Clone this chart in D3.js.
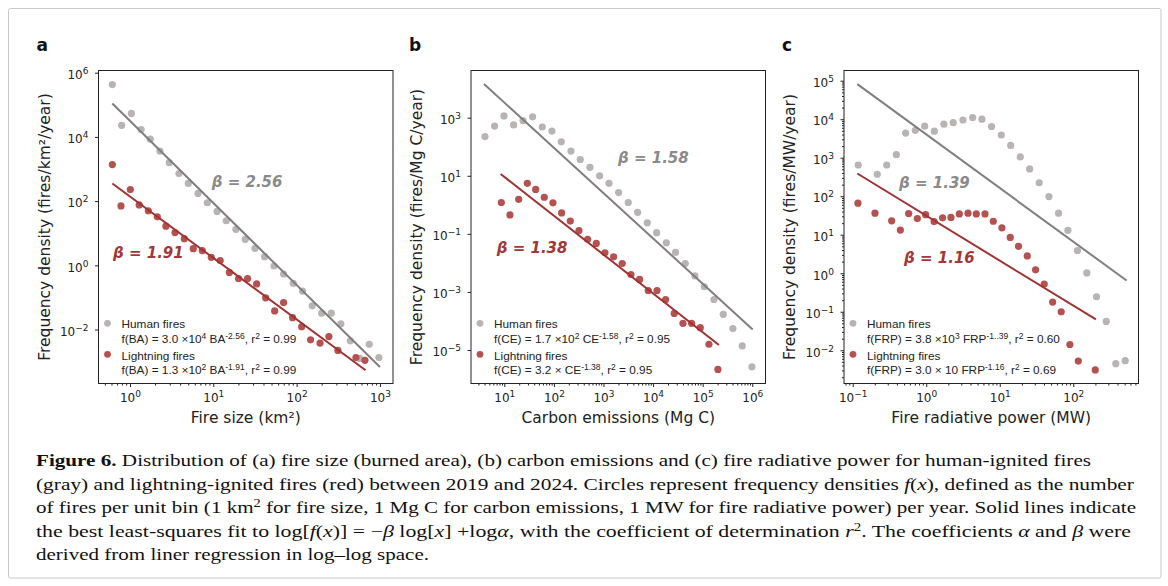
<!DOCTYPE html>
<html>
<head>
<meta charset="utf-8">
<script src="https://cdn.jsdelivr.net/npm/d3@7"></script>
<style>
  body { margin: 0; background: #fff; }
  svg { display: block; }
  text { white-space: pre; }
</style>
</head>
<body>
<svg width="1168" height="586"></svg>
<script>
// ---- panel a: fire size (km2) ----
var sizeHumanX = [0.614, 0.794, 1.04, 1.36, 1.75, 2.29, 2.96, 3.87, 5.01, 6.55, 8.47, 11.1, 14.3, 18.7, 24.2, 31.6, 41.3, 53.5, 69.8, 91.2, 118, 154, 200, 261, 340, 441, 575, 745, 973];
var sizeHumanY = [4.27e5, 2.29e4, 5.37e4, 1.70e4, 8.51e3, 3.63e3, 1.58e3, 724, 355, 174, 89.1, 47.9, 24.5, 13.2, 6.46, 3.39, 1.86, 0.955, 0.537, 0.275, 0.158, 0.055, 0.0324, 0.0324, 0.0151, 0.00447, 0.00126, 0.00347, 0.00135];
var sizeLightX = [0.614, 0.78, 1.01, 1.29, 1.66, 2.13, 2.70, 3.47, 4.49, 5.75, 7.38, 9.46, 12.1, 15.6, 20.1, 25.8, 33.1, 42.5, 54.5, 69.8, 89.5, 115, 147, 191, 244, 313, 515, 661];
var sizeLightY = [1380, 70.8, 229, 75.9, 50.1, 32.4, 16.6, 10.5, 6.76, 3.31, 2.88, 1.78, 1.41, 0.603, 0.389, 0.389, 0.263, 0.0977, 0.038, 0.0692, 0.0234, 0.0123, 0.00479, 0.0038, 0.00603, 0.00224, 0.00135, 0.0011];
var sizeHumanFit = [[0.614, 1.10e5], [1000, 6.8e-4]];
var sizeLightFit = [[0.614, 355], [673, 5.4e-4]];
var sizeXTicks = [1, 10, 100, 1000];
var sizeYTicks = [1e-2, 1, 1e2, 1e4, 1e6];

// ---- panel b: carbon emissions (Mg C) ----
var carbonHumanX = [4.07, 6.38, 9.84, 15.4, 23.8, 37.2, 58.3, 91.4, 141, 221, 340, 533, 836, 1290, 2020, 3160, 4880, 7640, 11800, 18500, 28400, 44600, 69800, 108000, 169000, 260000, 407000, 628000, 984000];
var carbonHumanY = [224, 513, 1150, 562, 794, 1070, 479, 347, 148, 70.8, 36.3, 19.5, 10.0, 5.50, 2.63, 1.20, 0.550, 0.240, 0.110, 0.0490, 0.0229, 0.00955, 0.00355, 0.00151, 5.50e-4, 1.70e-4, 5.50e-5, 1.38e-5, 2.63e-6];
var carbonLightX = [8.71, 13.0, 19.5, 29.1, 42.9, 64.0, 95.7, 143, 214, 320, 479, 716, 1070, 1600, 2390, 3580, 5350, 8000, 12000, 17900, 26700, 40000, 59800, 89500, 134000, 203000];
var carbonLightY = [1.20, 0.447, 1.55, 5.50, 3.39, 1.82, 1.17, 0.525, 0.275, 0.129, 0.0646, 0.0468, 0.0224, 0.0162, 0.00955, 0.00398, 0.00269, 0.00112, 0.00112, 5.50e-4, 1.82e-4, 8.32e-5, 8.32e-5, 5.89e-5, 1.58e-5, 2.14e-6];
var carbonHumanFit = [[3.89, 1.45e4], [1.02e6, 5.13e-5]];
var carbonLightFit = [[8.43, 11.5], [2.13e5, 1.48e-5]];
var carbonXTicks = [10, 1e2, 1e3, 1e4, 1e5, 1e6];
var carbonYTicks = [1e-5, 1e-3, 1e-1, 10, 1e3];

// ---- panel c: fire radiative power (MW) ----
var frpHumanX = [0.119, 0.216, 0.290, 0.393, 0.525, 0.711, 0.953, 1.29, 1.74, 2.33, 3.16, 4.28, 5.73, 7.74, 10.5, 14.1, 19.0, 25.5, 34.4, 46.7, 63.1, 84.5, 114, 153, 207, 281, 379, 508];
var frpHumanY = [646, 372, 646, 1200, 4370, 5130, 6610, 4900, 7410, 8130, 9550, 11000, 10000, 6460, 3890, 2090, 1050, 513, 224, 97.7, 36.3, 12.9, 3.89, 1.02, 0.245, 0.0562, 0.00447, 0.00537];
var frpLightX = [0.118, 0.201, 0.339, 0.445, 0.577, 0.757, 0.982, 1.28, 1.67, 2.17, 2.82, 3.70, 4.80, 6.30, 8.17, 10.7, 13.9, 18.0, 23.7, 30.7, 40.3, 52.4, 68.5, 89.9, 117, 199];
var frpLightY = [66.1, 36.3, 22.9, 13.2, 35.5, 26.3, 33.1, 21.9, 27.5, 28.2, 34.7, 36.3, 34.7, 34.7, 22.4, 15.1, 8.51, 5.01, 2.82, 1.23, 0.525, 0.178, 0.100, 0.0141, 0.00525, 0.00309];
var frpHumanFit = [[0.1156, 8.13e4], [531, 0.646]];
var frpLightFit = [[0.1156, 389], [203, 0.0631]];
var frpXTicks = [0.1, 1, 10, 100];
var frpYTicks = [1e-2, 1e-1, 1, 10, 1e2, 1e3, 1e4, 1e5];

var seriesNames = ['Human fires', 'Lightning fires'];
var grayDot = '#b9b3b3', redDot = '#b5524f';
var grayLine = '#7f7f7f', redLine = '#a03232';

// tiny markup: ^{sup}  *{italic}  #{bold}
function rich(textSel, str, supSize, rise) {
  var raised = false;
  str.split(/(\^\{[^}]*\}|\*\{[^}]*\}|#\{[^}]*\})/).filter(function (s) { return s.length; })
    .forEach(function (tok) {
      var m = /^([\^*#])\{(.*)\}$/.exec(tok);
      var span = textSel.append('tspan');
      if (m && m[1] === '^') {
        span.text(m[2]).attr('font-size', supSize);
        if (!raised) { span.attr('dy', -rise); raised = true; }
        return;
      }
      if (raised) { span.attr('dy', rise); raised = false; }
      if (!m) span.text(tok);
      else if (m[1] === '*') span.text(m[2]).attr('font-style', 'italic');
      else span.text(m[2]).attr('font-weight', 'bold');
    });
}

function minorTicks(domain) {
  var out = [];
  for (var k = Math.floor(Math.log10(domain[0])); k <= Math.ceil(Math.log10(domain[1])); k++) {
    for (var m = 2; m <= 9; m++) {
      var v = m * Math.pow(10, k);
      if (v >= domain[0] && v <= domain[1]) out.push(v);
    }
  }
  return out;
}

// axis text is styled after the call, since d3 sets its own font on the group
function powLabels(g) {
  g.attr('font-family', 'DejaVu Sans').attr('font-size', 12);
  g.selectAll('.tick text').attr('fill', '#222').each(function (d) {
    var e = Math.round(Math.log10(d));
    var t = d3.select(this).text(null);
    t.append('tspan').text('10');
    t.append('tspan').attr('dy', -5).attr('font-size', 9).text(e < 0 ? '\u2212' + (-e) : String(e));
  });
}

var svg = d3.select('svg');
var plotTop = 70.5, plotBottom = 383.5, plotW = 294.5;

svg.append('rect')
  .attr('x', 8.5).attr('y', 8.5).attr('width', 1152.5).attr('height', 569.5).attr('rx', 2)
  .attr('fill', 'none').attr('stroke', '#c8c8c8').attr('stroke-width', 1);

var panels = [
  { tag: 'a', left: 98.5, xDomain: [0.419, 1435], yDomain: [2.09e-4, 1.17e6],
    xTicks: sizeXTicks, yTicks: sizeYTicks, yMinor: false,
    hx: sizeHumanX, hy: sizeHumanY, lx: sizeLightX, ly: sizeLightY, hFit: sizeHumanFit, lFit: sizeLightFit,
    betaH: ['\u03b2 = 2.56', 9.57, 275], betaL: ['\u03b2 = 1.91', 0.625, 1.73],
    fH: 'f(BA) = 3.0 \u00d710^{4} BA^{-2.56}, r^{2} = 0.99', fL: 'f(BA) = 1.3 \u00d710^{2} BA^{-1.91}, r^{2} = 0.99',
    xLabel: 'Fire size (km\u00b2)', yLabel: 'Frequency density (fires/km\u00b2/year)', yLabelX: 49.5 },
  { tag: 'b', left: 471, xDomain: [2.13, 1.85e6], yDomain: [7.03e-7, 4.22e4],
    xTicks: carbonXTicks, yTicks: carbonYTicks, yMinor: false,
    hx: carbonHumanX, hy: carbonHumanY, lx: carbonLightX, ly: carbonLightY, hFit: carbonHumanFit, lFit: carbonLightFit,
    betaH: ['\u03b2 = 1.58', 1960, 27.5], betaL: ['\u03b2 = 1.38', 7.03, 0.0219],
    fH: 'f(CE) = 1.7 \u00d710^{2} CE^{-1.58}, r^{2} = 0.95', fL: 'f(CE) = 3.2 \u00d7 CE^{-1.38}, r^{2} = 0.95',
    xLabel: 'Carbon emissions (Mg C)', yLabel: 'Frequency density (fires/Mg C/year)', yLabelX: 422 },
  { tag: 'c', left: 844, xDomain: [0.0762, 771], yDomain: [1.37e-3, 1.84e5],
    xTicks: frpXTicks, yTicks: frpYTicks, yMinor: true,
    hx: frpHumanX, hy: frpHumanY, lx: frpLightX, ly: frpLightY, hFit: frpHumanFit, lFit: frpLightFit,
    betaH: ['\u03b2 = 1.39', 0.427, 167], betaL: ['\u03b2 = 1.16', 0.499, 1.85],
    fH: 'f(FRP) = 3.8 \u00d710^{3} FRP^{-1..39}, r^{2} = 0.60', fL: 'f(FRP) = 3.0 \u00d7 10 FRP^{-1.16}, r^{2} = 0.69',
    xLabel: 'Fire radiative power (MW)', yLabel: 'Frequency density (fires/MW/year)', yLabelX: 795 }
];

panels.forEach(function (p) {
  var x = d3.scaleLog().domain(p.xDomain).range([p.left, p.left + plotW]);
  var y = d3.scaleLog().domain(p.yDomain).range([plotBottom, plotTop]);

  // panel letter
  svg.append('text').attr('x', p.left - 62).attr('y', 51)
    .attr('font-family', 'DejaVu Sans').attr('font-weight', 'bold').attr('font-size', 17)
    .attr('fill', '#111').text(p.tag);

  // axes
  var gx = svg.append('g').attr('transform', 'translate(0,' + plotBottom + ')').attr('color', '#222')
    .call(d3.axisBottom(x).tickValues(p.xTicks).tickSize(3.5).tickPadding(6.8).tickSizeOuter(0).tickFormat(''));
  gx.select('.domain').remove();
  powLabels(gx);
  var gxm = svg.append('g').attr('transform', 'translate(0,' + plotBottom + ')').attr('color', '#222')
    .call(d3.axisBottom(x).tickValues(minorTicks(p.xDomain)).tickSize(2).tickSizeOuter(0).tickFormat(''));
  gxm.select('.domain').remove();

  var gy = svg.append('g').attr('transform', 'translate(' + p.left + ',0)').attr('color', '#222')
    .call(d3.axisLeft(y).tickValues(p.yTicks).tickSize(3.5).tickPadding(6.5).tickSizeOuter(0).tickFormat(''));
  gy.select('.domain').remove();
  gy.selectAll('.tick text').attr('dy', '0.48em');
  powLabels(gy);
  if (p.yMinor) {
    var gym = svg.append('g').attr('transform', 'translate(' + p.left + ',0)').attr('color', '#222')
      .call(d3.axisLeft(y).tickValues(minorTicks(p.yDomain)).tickSize(2).tickSizeOuter(0).tickFormat(''));
    gym.select('.domain').remove();
  }

  svg.append('rect').attr('x', p.left).attr('y', plotTop).attr('width', plotW).attr('height', plotBottom - plotTop)
    .attr('fill', 'none').attr('stroke', '#222').attr('stroke-width', 1);

  // points
  [[p.hx, p.hy, grayDot], [p.lx, p.ly, redDot]].forEach(function (s) {
    svg.append('g').selectAll('circle').data(s[0]).join('circle')
      .attr('cx', function (d) { return x(d); })
      .attr('cy', function (d, i) { return y(s[1][i]); })
      .attr('r', 3.6).attr('fill', s[2]);
  });

  // least-squares fit lines
  var line = d3.line().x(function (d) { return x(d[0]); }).y(function (d) { return y(d[1]); });
  svg.append('path').attr('d', line(p.hFit)).attr('fill', 'none').attr('stroke', grayLine).attr('stroke-width', 2);
  svg.append('path').attr('d', line(p.lFit)).attr('fill', 'none').attr('stroke', redLine).attr('stroke-width', 2);

  // beta annotations
  [[p.betaH, '#8a8a8a'], [p.betaL, '#a33838']].forEach(function (b) {
    svg.append('text').attr('x', x(b[0][1])).attr('y', y(b[0][2]))
      .attr('font-family', 'DejaVu Sans').attr('font-weight', 'bold').attr('font-style', 'italic')
      .attr('font-size', 15).attr('fill', b[1]).text(b[0][0]);
  });

  // legend
  var lg = svg.append('g').attr('font-family', 'Liberation Sans, Arial, sans-serif').attr('font-size', 11.8).attr('fill', '#222');
  [[grayDot, 323.3, 328.3, p.fH], [redDot, 354.3, 359.5, p.fL]].forEach(function (r, i) {
    lg.append('circle').attr('cx', p.left + 9).attr('cy', r[1]).attr('r', 3.4).attr('fill', r[0]);
    lg.append('text').attr('x', p.left + 23).attr('y', r[2]).text(seriesNames[i]);
    rich(lg.append('text').attr('x', p.left + 23).attr('y', r[2] + 14.8), r[3], 8.5, 4.5);
  });

  // axis titles
  svg.append('text').attr('x', p.left + plotW / 2).attr('y', 423).attr('text-anchor', 'middle')
    .attr('font-family', 'DejaVu Sans').attr('font-size', 15.5).attr('fill', '#222').text(p.xLabel);
  svg.append('text').attr('transform', 'translate(' + p.yLabelX + ',' + ((plotTop + plotBottom) / 2) + ') rotate(-90)')
    .attr('text-anchor', 'middle').attr('font-family', 'DejaVu Sans').attr('font-size', 15.5).attr('fill', '#222')
    .text(p.yLabel);
});

// caption
var captionLines = [
  '#{Figure 6.} Distribution of (a) fire size (burned area), (b) carbon emissions and (c) fire radiative power for human-ignited fires',
  '(gray) and lightning-ignited fires (red) between 2019 and 2024. Circles represent frequency densities *{f}(*{x}), defined as the number',
  'of fires per unit bin (1 km^{2} for fire size, 1 Mg C for carbon emissions, 1 MW for fire radiative power) per year. Solid lines indicate',
  'the best least-squares fit to log[*{f}(*{x})] = \u2212*{\u03b2} log[*{x}] +log*{\u03b1}, with the coefficient of determination *{r}^{2}. The coefficients *{\u03b1} and *{\u03b2} were',
  'derived from liner regression in log\u2013log space.'
];
var captionEnds = [1091, 1134, 1136, 1131, 429];
captionLines.forEach(function (s, i) {
  var t = svg.append('text').attr('x', 36).attr('y', 466 + i * 23.5)
    .attr('font-family', 'Liberation Serif, Times New Roman, serif').attr('font-size', 17.5).attr('fill', '#111')
    .attr('textLength', captionEnds[i] - 36).attr('lengthAdjust', 'spacingAndGlyphs');
  rich(t, s, 12, 6);
});
</script>
</body>
</html>
